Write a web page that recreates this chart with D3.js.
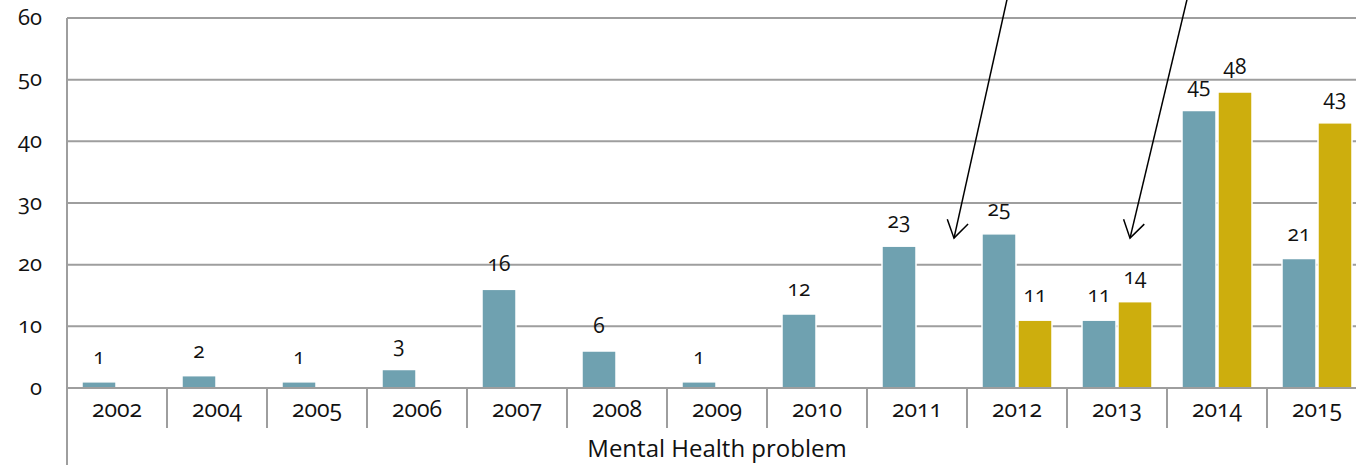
<!DOCTYPE html>
<html>
<head>
<meta charset="utf-8">
<script src="https://cdn.jsdelivr.net/npm/d3@7"></script>
<style>
  html, body { margin: 0; padding: 0; background: #fff; }
  svg { display: block; font-family: "Open Sans", "Noto Sans", sans-serif; font-variant-numeric: oldstyle-nums; }
</style>
</head>
<body>
<svg id="chart" width="1356" height="465"></svg>
<script>
// Yearly counts of the "Mental Health problem" category, two series per year
const years = ["2002", "2004", "2005", "2006", "2007", "2008", "2009", "2010", "2011", "2012", "2013", "2014", "2015"];
const seriesA = [1, 2, 1, 3, 16, 6, 1, 12, 23, 25, 11, 45, 21];
const seriesB = [null, null, null, null, null, null, null, null, null, 11, 14, 48, 43];
const yTicks = [0, 10, 20, 30, 40, 50, 60];
const categoryTitle = "Mental Health problem";

// Annotation arrows, given in data space (category + fraction of band, value)
const arrows = [
  { fromYear: "2012", fromFrac: 0.40, fromValue: 63, toYear: "2011", toFrac: 0.87, toValue: 24.3 },
  { fromYear: "2014", fromFrac: 0.20, fromValue: 63, toYear: "2013", toFrac: 0.63, toValue: 24.3 }
];

const colors = { a: "#6fa1b0", b: "#cdae0d", grid: "#9e9e9e", text: "#111" };

const svg = d3.select("#chart");
const left = 67, bandW = 100;
const x = d3.scaleBand().domain(years).range([left, left + bandW * years.length]);
const y = d3.scaleLinear().domain([0, 60]).range([388, 18]);

const barW = 34, pad = 15, gap = 2;

// horizontal gridlines
svg.append("g").selectAll("line").data(yTicks).join("line")
  .attr("x1", left).attr("x2", x.range()[1])
  .attr("y1", d => y(d)).attr("y2", d => y(d))
  .attr("stroke", colors.grid).attr("stroke-width", 2);

// y tick labels
svg.append("g").selectAll("text").data(yTicks).join("text")
  .attr("x", 42).attr("y", d => y(d)).attr("dy", "0.3em")
  .attr("text-anchor", "end").attr("font-size", 22).attr("fill", colors.text)
  .text(d => d);

// bars
const barsA = years.map((yr, i) => ({ yr, v: seriesA[i], x0: x(yr) + pad }));
const barsB = years.map((yr, i) => ({ yr, v: seriesB[i], x0: x(yr) + pad + barW + gap })).filter(d => d.v != null);
const allBars = [
  ...barsA.map(d => ({ ...d, c: colors.a })),
  ...barsB.map(d => ({ ...d, c: colors.b }))
];

svg.append("g").selectAll("rect").data(allBars).join("rect")
  .attr("x", d => d.x0).attr("width", barW)
  .attr("y", d => y(d.v)).attr("height", d => y(0) - y(d.v))
  .attr("fill", d => d.c).attr("stroke", "#fff").attr("stroke-width", 1.5);

// value labels
svg.append("g").selectAll("text").data(allBars).join("text")
  .attr("x", d => d.x0 + barW / 2).attr("y", d => y(d.v) - 18)
  .attr("text-anchor", "middle").attr("font-size", 21).attr("fill", colors.text)
  .text(d => d.v);

// axes lines
svg.append("line").attr("x1", left).attr("x2", x.range()[1])
  .attr("y1", y(0)).attr("y2", y(0)).attr("stroke", colors.grid).attr("stroke-width", 2);
svg.append("line").attr("x1", left).attr("x2", left)
  .attr("y1", y(60)).attr("y2", 465).attr("stroke", colors.grid).attr("stroke-width", 2);

// category separators
svg.append("g").selectAll("line").data(years.slice(1).concat(["__end"])).join("line")
  .attr("x1", (d, i) => left + bandW * (i + 1)).attr("x2", (d, i) => left + bandW * (i + 1))
  .attr("y1", y(0)).attr("y2", 428)
  .attr("stroke", colors.grid).attr("stroke-width", 2);

// category labels
svg.append("g").selectAll("text").data(years).join("text")
  .attr("x", d => x(d) + x.bandwidth() / 2).attr("y", 417)
  .attr("text-anchor", "middle").attr("font-size", 23).attr("fill", colors.text)
  .text(d => d);

svg.append("text")
  .attr("x", (x.range()[0] + x.range()[1]) / 2).attr("y", 457)
  .attr("text-anchor", "middle").attr("font-size", 24).attr("fill", colors.text)
  .text(categoryTitle);

// annotation arrows
const ag = svg.append("g").attr("stroke", "#000").attr("stroke-width", 1.5).attr("fill", "none");
arrows.forEach(a => {
  const x1 = x(a.fromYear) + bandW * a.fromFrac, y1 = y(a.fromValue);
  const x2 = x(a.toYear) + bandW * a.toFrac, y2 = y(a.toValue);
  ag.append("line").attr("x1", x1).attr("y1", y1).attr("x2", x2).attr("y2", y2);
  const ang = Math.atan2(y1 - y2, x1 - x2);
  const L = 20, spread = Math.PI / 5.6;
  const p = [ang - spread, ang + spread].map(t => [x2 + L * Math.cos(t), y2 + L * Math.sin(t)]);
  ag.append("path").attr("d", `M${p[0][0]},${p[0][1]}L${x2},${y2}L${p[1][0]},${p[1][1]}`);
});
</script>
</body>
</html>
